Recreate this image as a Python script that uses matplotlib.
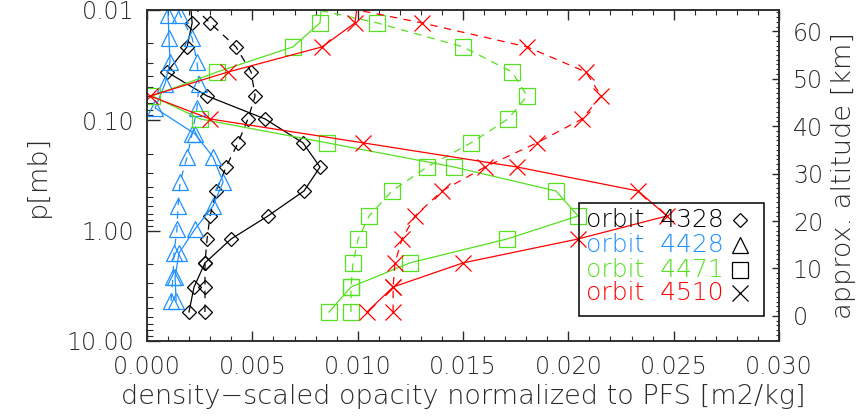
import numpy as np
import matplotlib
matplotlib.use('Agg')
import matplotlib.pyplot as plt
from matplotlib.patches import Rectangle
from matplotlib.ticker import MultipleLocator, FormatStrFormatter, NullFormatter

# pressure levels of the retrieved profiles [mb]
p_levels = [5.46, 3.24, 1.96, 1.19, 0.736, 0.437, 0.265, 0.160,
            0.0972, 0.0602, 0.0365, 0.0216, 0.0131, 0.0079]
# orbit 4428 uses a slightly shifted grid
p_levels_4428 = [4.34, 2.63, 1.59, 0.966, 0.598, 0.362, 0.215, 0.133,
                 0.0773, 0.0469, 0.0296, 0.0179, 0.0111, 0.0067]

# density-scaled opacity [m2/kg], solid and dashed profile per orbit
op_4328_solid = [0.00199, 0.00223, 0.00275, 0.00399, 0.00574, 0.00745, 0.00821,
                 0.00740, 0.00560, 0.00285, 0.00095, 0.00190, 0.00214, 0.00204]
op_4328_dash = [0.00275, 0.00275, 0.00275, 0.00285, 0.00299, 0.00328, 0.00375,
                0.00432, 0.00479, 0.00513, 0.00494, 0.00422, 0.00299, 0.00180]

op_4428_solid = [0.00138, 0.00133, 0.00152, 0.00228, 0.00313, 0.00361, 0.00313,
                 0.00228, 0.00038, 0.00085, 0.00109, 0.00104, 0.00100, 0.00095]
op_4428_dash = [0.00114, 0.00123, 0.00128, 0.00142, 0.00147, 0.00157, 0.00190,
                0.00214, 0.00237, 0.00247, 0.00237, 0.00214, 0.00157, 0.00119]

op_4471_solid = [0.00864, 0.00968, 0.01248, 0.01709, 0.02046, 0.01941, 0.01457,
                 0.00854, 0.00252, 0.00024, 0.00332, 0.00693, 0.00821, 0.00831]
op_4471_dash = [0.00968, 0.00968, 0.00978, 0.01002, 0.01054, 0.01163, 0.01329,
                0.01538, 0.01714, 0.01804, 0.01733, 0.01500, 0.01092, 0.00570]

op_4510_solid = [0.01044, 0.01168, 0.01500, 0.02046, 0.02468, 0.02331, 0.01756,
                 0.01025, 0.00299, 0.00014, 0.00384, 0.00831, 0.00987, 0.01002]
op_4510_dash = [0.01168, 0.01168, 0.01177, 0.01210, 0.01272, 0.01400, 0.01604,
                0.01851, 0.02065, 0.02155, 0.02084, 0.01804, 0.01305, 0.00730]

orbits = ['4328', '4428', '4471', '4510']
colors = ['black', '#1E90FF', '#55E020', '#FF0000']
markers = ['D', '^', 's', 'x']
marker_sizes = [7.6, 11.0, 11.0, 11.5]

# scale height and reference pressure for the altitude axis
H_KM = 10.1
P0_MB = 5.93

FONT = 17
TEXT_COLOR = '#2a2a2a'


def altitude(p):
    return H_KM * np.log(P0_MB / p)


def plot_profiles(output_image):
    plt.rcParams['font.family'] = ['DejaVu Sans']
    plt.rcParams['font.weight'] = 200
    plt.rcParams['axes.labelweight'] = 200
    fig = plt.figure(figsize=(8.65, 4.19), dpi=100)
    ax = fig.add_axes([0.170, 0.1862, 0.7306, 0.7900])

    profiles = [
        (p_levels, op_4328_solid, op_4328_dash),
        (p_levels_4428, op_4428_solid, op_4428_dash),
        (p_levels, op_4471_solid, op_4471_dash),
        (p_levels, op_4510_solid, op_4510_dash),
    ]

    for (p, solid, dash), c, m, ms in zip(profiles, colors, markers, marker_sizes):
        ax.plot(solid, p, color=c, lw=0.9, marker=m, ms=ms, mfc='none',
                mec=c, mew=0.9)
        ax.plot(dash, p, color=c, lw=0.9, ls=(0, (6, 5)), marker=m, ms=ms,
                mfc='none', mec=c, mew=0.9)

    ax.set_yscale('log')
    ax.set_ylim(10, 0.01)
    ax.set_xlim(0, 0.03)

    ax.xaxis.set_major_locator(MultipleLocator(0.005))
    ax.xaxis.set_minor_locator(MultipleLocator(0.001))
    ax.xaxis.set_major_formatter(FormatStrFormatter('%.3f'))
    ax.yaxis.set_major_formatter(FormatStrFormatter('%.2f'))
    ax.yaxis.set_minor_formatter(NullFormatter())

    ax.tick_params(axis='x', which='both', direction='in', top=True,
                   labelsize=FONT, pad=10, colors=TEXT_COLOR)
    ax.tick_params(axis='x', which='major', length=7, width=1)
    ax.tick_params(axis='x', which='minor', length=3.5, width=0.8)
    ax.tick_params(axis='y', which='both', direction='in', right=False,
                   labelsize=FONT, pad=9, colors=TEXT_COLOR)
    ax.tick_params(axis='y', which='major', length=9.5, width=1)
    ax.tick_params(axis='y', which='minor', length=4.5, width=0.8)

    ax.set_xlabel('density\u2212scaled opacity normalized to PFS [m2/kg]',
                  fontsize=19.5, fontweight=200, color=TEXT_COLOR, labelpad=4)
    ax.set_ylabel('p[mb]', fontsize=19.5, fontweight=200, color=TEXT_COLOR,
                  labelpad=12)

    # altitude axis on the right, linear in log pressure
    ax2 = ax.twinx()
    ax2.set_ylim(altitude(10.0), altitude(0.01))
    ax2.yaxis.set_major_locator(MultipleLocator(10))
    ax2.yaxis.set_minor_locator(MultipleLocator(1))
    ax2.tick_params(axis='y', which='both', direction='in', labelsize=FONT,
                    pad=10, colors=TEXT_COLOR)
    ax2.tick_params(axis='y', which='major', length=5, width=1)
    ax2.tick_params(axis='y', which='minor', length=2.5, width=0.8)
    ax2.set_ylabel('approx. altitude [km]', fontsize=19.5, fontweight=200,
                   color=TEXT_COLOR, labelpad=6)

    for a in (ax, ax2):
        for spine in a.spines.values():
            spine.set_linewidth(1.1)
            spine.set_color(TEXT_COLOR)

    # hand-drawn legend box, no fill so the profiles show through
    ax.add_patch(Rectangle((0.684, 0.0755), 0.292, 0.3415, transform=ax.transAxes,
                           fill=False, ec='black', lw=1.1, zorder=5))
    rows = [0.3656, 0.290, 0.2145, 0.145]
    for orbit, c, m, ms, y in zip(orbits, colors, markers, marker_sizes, rows):
        ax.text(0.694, y, 'orbit  ' + orbit, transform=ax.transAxes,
                color=c, fontsize=18, va='center', ha='left', zorder=6)
        ax.plot([0.938], [y], transform=ax.transAxes, marker=m, ms=ms,
                mfc='none', mec='black', mew=0.9, ls='none', clip_on=False,
                zorder=6)

    fig.savefig(output_image, dpi=100)
    plt.close(fig)


def main():
    plot_profiles('out.png')


if __name__ == '__main__':
    main()
